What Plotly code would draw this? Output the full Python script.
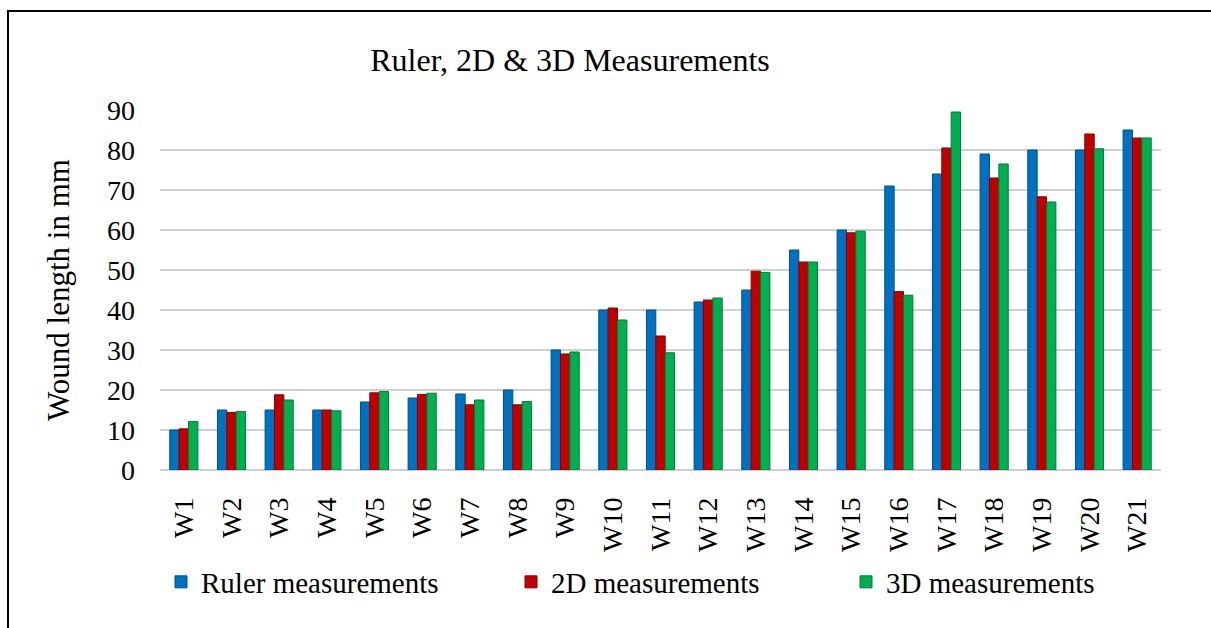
import plotly.graph_objects as go

categories = ["W1", "W2", "W3", "W4", "W5", "W6", "W7", "W8", "W9", "W10", "W11",
              "W12", "W13", "W14", "W15", "W16", "W17", "W18", "W19", "W20", "W21"]
ruler = [10, 15, 15, 15, 17, 18, 19, 20, 30, 40, 40, 42, 45, 55, 60, 71, 74, 79, 80, 80, 85]
meas_2d = [10.3, 14.4, 18.8, 15, 19.3, 18.9, 16.3, 16.3, 29, 40.5, 33.5, 42.5, 49.7, 52,
           59.3, 44.6, 80.5, 73, 68.3, 84, 83]
meas_3d = [12.1, 14.6, 17.5, 14.8, 19.6, 19.2, 17.5, 17.1, 29.5, 37.5, 29.3, 43, 49.4, 52,
           59.7, 43.7, 89.5, 76.5, 67, 80.3, 83]
y_ticks = [0, 10, 20, 30, 40, 50, 60, 70, 80, 90]

FONT = "Liberation Serif"
W, H = 1211, 628
L, R, T, B = 160, 50, 110, 158
PW, PH = W - L - R, H - T - B


def px_x(p):
    return (p - L) / PW


def px_y(p):
    return (H - B - p) / PH


series = [
    ("Ruler measurements", ruler, "#0070C0", "#004E8A", "legend"),
    ("2D measurements", meas_2d, "#C00000", "#860000", "legend2"),
    ("3D measurements", meas_3d, "#00B050", "#007A37", "legend3"),
]

fig = go.Figure()
for name, vals, col, edge, lg in series:
    fig.add_trace(go.Bar(
        x=categories, y=vals, name=name,
        marker=dict(color=col, line=dict(color=edge, width=1)),
        legend=lg, showlegend=True,
    ))

leg_common = dict(orientation="h", yanchor="middle", xanchor="left",
                  font=dict(family=FONT, size=29, color="black"),
                  bgcolor="rgba(0,0,0,0)", borderwidth=0)

fig.update_layout(
    width=W, height=H,
    showlegend=True,
    margin=dict(l=L, r=R, t=T, b=B, pad=0),
    paper_bgcolor="white", plot_bgcolor="white",
    barmode="group", bargap=0.41, bargroupgap=0,
    font=dict(family=FONT, size=28, color="black"),
    title=dict(text="Ruler, 2D &amp; 3D Measurements", x=570 / W, xref="container",
               xanchor="center", y=1 - 60 / H, yref="container", yanchor="middle",
               font=dict(family=FONT, size=32, color="black")),
    legend=dict(x=px_x(161), y=px_y(582), **leg_common),
    legend2=dict(x=px_x(511), y=px_y(582), **leg_common),
    legend3=dict(x=px_x(846), y=px_y(582), **leg_common),
    xaxis=dict(tickangle=-90, showgrid=False, showline=False, ticks="",
               ticklabelstandoff=21,
               tickfont=dict(family=FONT, size=28, color="black")),
    yaxis=dict(range=[0, 90], tickvals=y_ticks, showgrid=True, gridcolor="#D0D0D0",
               gridwidth=2, zeroline=True, zerolinecolor="#D0D0D0", zerolinewidth=2,
               showline=False, ticks="", ticklabelstandoff=24,
               tickfont=dict(family=FONT, size=28, color="black"),
               title=dict(text="Wound length in mm", standoff=28,
                          font=dict(family=FONT, size=31, color="black"))),
    shapes=[dict(type="rect", xref="paper", yref="paper",
                 x0=px_x(8), x1=px_x(1230), y0=px_y(660), y1=px_y(11),
                 line=dict(color="black", width=2), fillcolor="rgba(0,0,0,0)",
                 layer="below")],
)

fig.write_html("out.html", config={"displayModeBar": False},
               post_script="document.body.style.margin='0';document.body.style.overflow='hidden';")
